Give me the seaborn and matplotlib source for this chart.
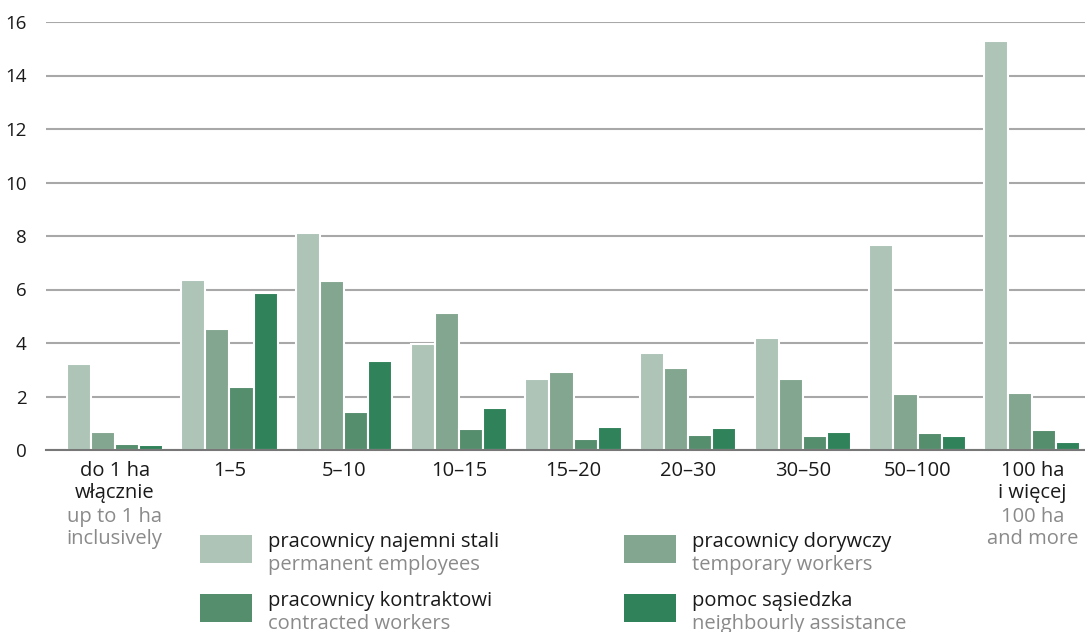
import matplotlib
matplotlib.use("Agg")
import matplotlib.pyplot as plt
import seaborn as sns
import pandas as pd
from matplotlib.patches import Rectangle
import matplotlib.transforms as mtrans

categories = ["do 1 ha\nwłącznie", "1–5", "5–10", "10–15", "15–20", "20–30", "30–50", "50–100", "100 ha\ni więcej"]
categories_en = ["up to 1 ha\ninclusively", "", "", "", "", "", "", "", "100 ha\nand more"]

series_pl = ["pracownicy najemni stali", "pracownicy dorywczy", "pracownicy kontraktowi", "pomoc sąsiedzka"]
series_en = ["permanent employees", "temporary workers", "contracted workers", "neighbourly assistance"]

permanent = [3.23, 6.37, 8.13, 3.97, 2.67, 3.62, 4.17, 7.67, 15.3]
temporary = [0.68, 4.52, 6.33, 5.12, 2.92, 3.05, 2.67, 2.1, 2.13]
contracted = [0.22, 2.34, 1.43, 0.79, 0.42, 0.56, 0.51, 0.64, 0.75]
neighbourly = [0.17, 5.88, 3.32, 1.56, 0.85, 0.82, 0.69, 0.53, 0.30]

yticks = [0, 2, 4, 6, 8, 10, 12, 14, 16]
colors = ["#adc4b7", "#83a690", "#558e6d", "#30825a"]

rows = []
for s, vals in zip(series_pl, [permanent, temporary, contracted, neighbourly]):
    for c, v in zip(categories, vals):
        rows.append({"cat": c, "series": s, "value": v})
df = pd.DataFrame(rows)

sns.set_theme(style="white")
plt.rcParams["font.family"] = ["Open Sans", "DejaVu Sans"]

FS = 14.5
W, H = 1085, 632
fig = plt.figure(figsize=(W / 100, H / 100), dpi=100)
ax = fig.add_axes([46 / W, 1 - 450 / H, (W - 46) / W, (450 - 22) / H])

sns.barplot(data=df, x="cat", y="value", hue="series", order=categories,
            hue_order=series_pl, palette=colors, width=0.84, dodge=True,
            edgecolor="white", linewidth=1.5, saturation=1, ax=ax, legend=False, zorder=3)

ax.set_ylim(0, 16)
ax.set_xlim(-0.6, 8.46)
ax.set_yticks(yticks)
ax.set_yticklabels([str(t) for t in yticks], fontsize=13.5, color="#1a1a1a")
ax.yaxis.grid(True, color="#a8a8a8", linewidth=1.5, zorder=0)
ax.set_axisbelow(True)
for sp in ["top", "right", "left"]:
    ax.spines[sp].set_visible(False)
ax.spines["bottom"].set_color("#777777")
ax.spines["bottom"].set_linewidth(1.5)
ax.spines["bottom"].set_zorder(4)
ax.tick_params(axis="both", length=0)
ax.tick_params(axis="y", pad=14)
ax.tick_params(axis="x", pad=8)
ax.set_xlabel("")
ax.set_ylabel("")
ax.set_xticks(range(len(categories)))
ax.set_xticklabels(categories, fontsize=FS, color="#1a1a1a", linespacing=1.12)

tr = mtrans.blended_transform_factory(ax.transData, fig.transFigure)
for i, en in enumerate(categories_en):
    if en:
        ax.text(i, 1 - 507 / H, en, transform=tr, ha="center", va="top",
                fontsize=FS, color="#8a8a8a", linespacing=1.12)

# legend (manual)
pos = [(200, 535), (624, 535), (200, 594), (624, 594)]
for (px, py), c, pl, en in zip(pos, colors, series_pl, series_en):
    fig.patches.append(Rectangle((px / W, 1 - (py + 28) / H), 52 / W, 28 / H,
                                 transform=fig.transFigure, facecolor=c, edgecolor="none"))
    fig.text((px + 68) / W, 1 - (py - 3) / H, pl, ha="left", va="top", fontsize=FS, color="#1a1a1a")
    fig.text((px + 68) / W, 1 - (py + 20) / H, en, ha="left", va="top", fontsize=FS, color="#8a8a8a")

fig.savefig("out.png", dpi=100)
